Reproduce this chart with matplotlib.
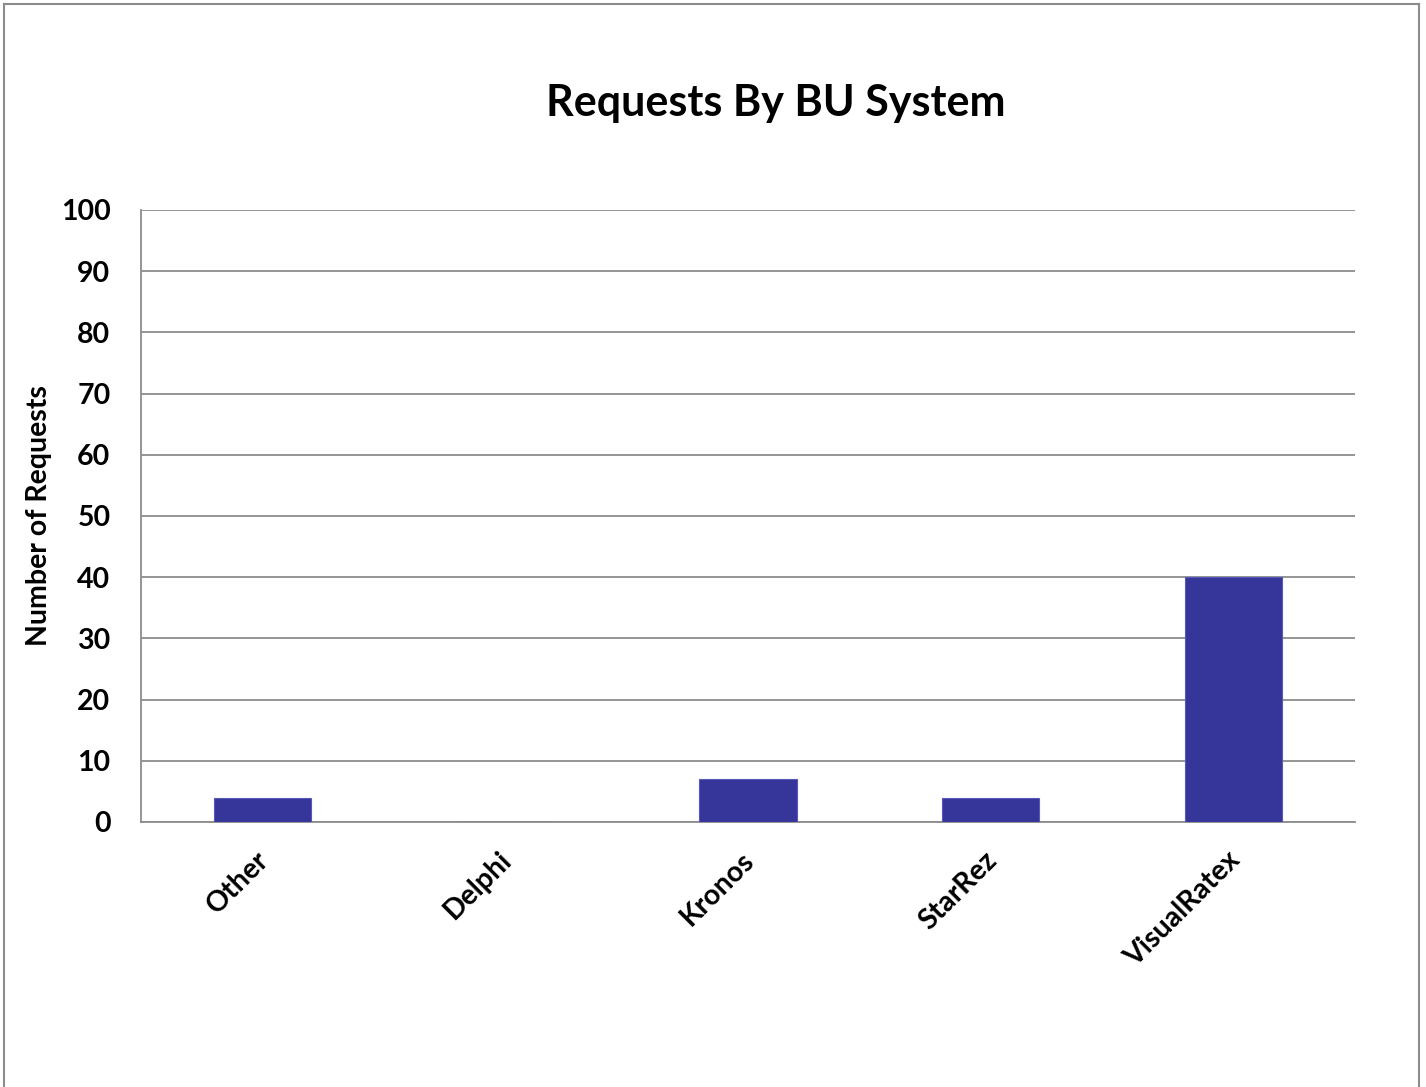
import matplotlib
matplotlib.use("Agg")
import matplotlib.pyplot as plt
from matplotlib.transforms import ScaledTranslation

categories = ["Other", "Delphi", "Kronos", "StarRez", "VisualRatex"]
values = [4, 0, 7, 4, 40]
yticks = [0, 10, 20, 30, 40, 50, 60, 70, 80, 90, 100]

plt.rcParams['font.family'] = ['Lato', 'DejaVu Sans']

fig = plt.figure(figsize=(14.26, 10.87), dpi=100)
ax = fig.add_axes([141/1426, 1-822/1087, (1355-141)/1426, (822-210)/1087])

x = list(range(len(categories)))
ax.bar(x, values, width=0.4, color="#35359A", edgecolor="#5858B8", linewidth=0.8, zorder=3)

ax.set_xlim(-0.5, 4.5)
ax.set_ylim(0, 100)
ax.set_yticks(yticks)
ax.set_yticklabels([str(t) for t in yticks], fontsize=20.5, fontweight='bold')
ax.set_xticks(x)
ax.set_xticklabels(categories, fontsize=20.5, fontweight='bold', rotation=45,
                   ha='right', va='top', rotation_mode='anchor')
ax.tick_params(axis='both', length=0)
ax.tick_params(axis='y', pad=22)
ax.tick_params(axis='x', pad=18)
off = ScaledTranslation(-7/100, 0, fig.dpi_scale_trans)
for lbl in ax.get_xticklabels():
    lbl.set_transform(lbl.get_transform() + off)
ax.yaxis.grid(True, color='#8c8c8c', linewidth=1.3, zorder=0)
ax.set_axisbelow(True)
for s in ['top', 'right']:
    ax.spines[s].set_visible(False)
for s in ['left', 'bottom']:
    ax.spines[s].set_color('#8c8c8c')
    ax.spines[s].set_linewidth(1.3)

ax.set_ylabel("Number of Requests", fontsize=20.5, fontweight='bold', labelpad=6)
fig.text(776/1426, 1-103/1087, "Requests By BU System", fontsize=31, fontweight='bold',
         ha='center', va='center')

# outer frame (left, top, right)
fig.add_artist(plt.Line2D([4/1426, 4/1426], [0, 1-4/1087], color='#8c8c8c', lw=1.5, transform=fig.transFigure))
fig.add_artist(plt.Line2D([4/1426, 1419/1426], [1-4/1087, 1-4/1087], color='#8c8c8c', lw=1.5, transform=fig.transFigure))
fig.add_artist(plt.Line2D([1419/1426, 1419/1426], [0, 1-4/1087], color='#8c8c8c', lw=1.5, transform=fig.transFigure))

fig.savefig("out.png", dpi=100)
